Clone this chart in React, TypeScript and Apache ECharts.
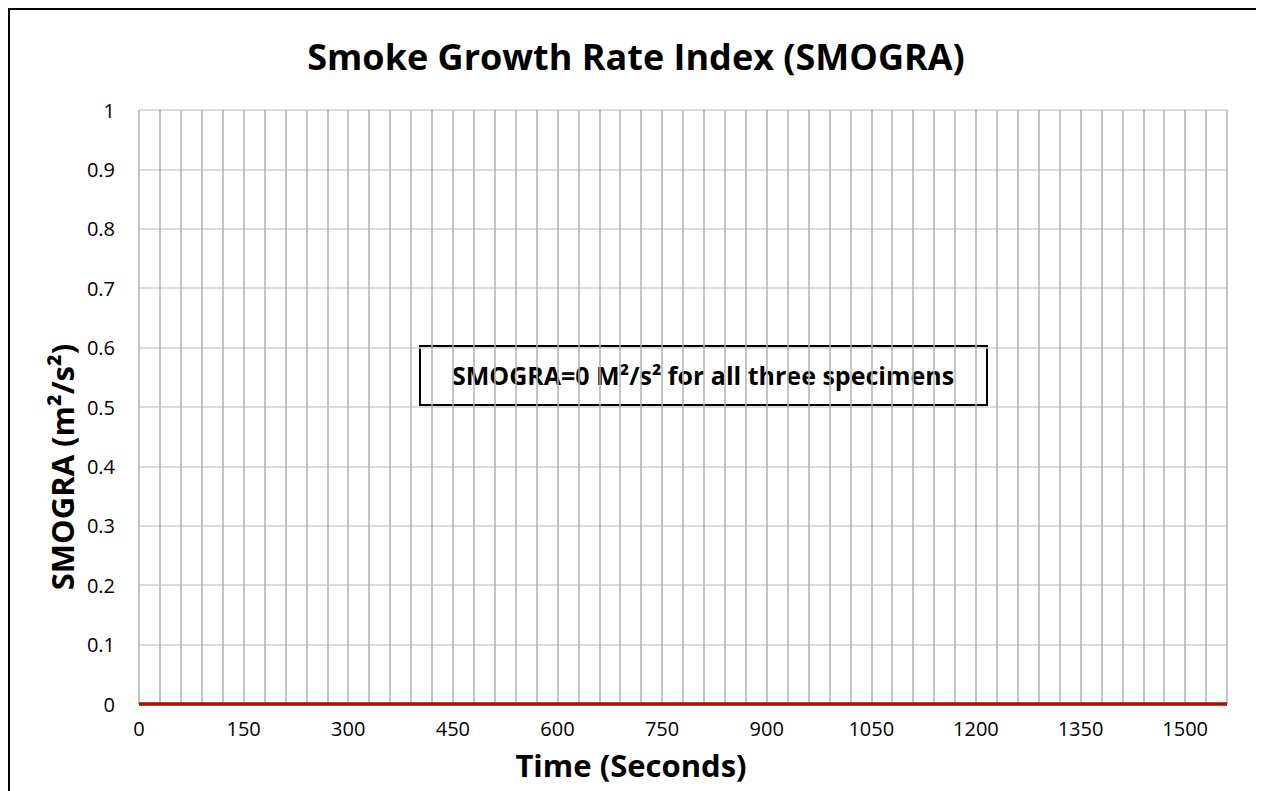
import React, { useEffect, useRef } from "react";
import * as echarts from "echarts";

const titleText = "Smoke Growth Rate Index (SMOGRA)";
const xAxisTitle = "Time (Seconds)";
const yAxisTitle = "SMOGRA (m²/s²)";
const noteText = "SMOGRA=0 M²/s² for all three specimens";

const timeSeconds = [0, 300, 600, 900, 1200, 1500, 1560];
const specimen1 = [0, 0, 0, 0, 0, 0, 0];
const specimen2 = [0, 0, 0, 0, 0, 0, 0];
const specimen3 = [0, 0, 0, 0, 0, 0, 0];
const seriesNames = ["Specimen 1", "Specimen 2", "Specimen 3"];
const seriesColors = ["#4472C4", "#70AD47", "#C00000"];

const FONT = "'Open Sans', sans-serif";

export default function App() {
  const ref = useRef<HTMLDivElement>(null);
  useEffect(() => {
    document.body.style.overflow = "hidden";
    if (!ref.current) return;
    const chart = echarts.init(ref.current, null, { renderer: "svg" });
    const allData = [specimen1, specimen2, specimen3];
    chart.setOption({
      animation: false,
      backgroundColor: "#ffffff",
      textStyle: { fontFamily: FONT },
      grid: { left: 131, right: 45, top: 102, bottom: 87, containLabel: false },
      xAxis: {
        type: "value",
        min: 0,
        max: 1560,
        interval: 30,
        axisLine: { show: false },
        axisTick: { show: false },
        axisLabel: {
          margin: 14,
          fontSize: 20,
          fontFamily: FONT,
          color: "#000",
          formatter: (v: number) => (v % 150 === 0 && v <= 1500 ? String(v) : ""),
        },
        splitLine: { show: true, lineStyle: { color: "#b0b0b0", width: 1.5 } },
      },
      yAxis: {
        type: "value",
        min: 0,
        max: 1,
        interval: 0.1,
        axisLine: { show: false },
        axisTick: { show: false },
        axisLabel: {
          margin: 24,
          fontSize: 20,
          fontFamily: FONT,
          color: "#000",
          formatter: (v: number) => String(Math.round(v * 10) / 10),
        },
        splitLine: { show: true, lineStyle: { color: "#d0d0d0", width: 1.5 } },
      },
      series: allData.map((d, i) => ({
        name: seriesNames[i],
        type: "line",
        data: timeSeconds.map((t, j) => [t, d[j]]),
        showSymbol: false,
        clip: false,
        lineStyle: { color: seriesColors[i], width: 3 },
        itemStyle: { color: seriesColors[i] },
        z: 3 + i,
      })),
      graphic: [
        {
          type: "line",
          shape: { x1: 1, y1: 0, x2: 1, y2: 900 },
          style: { stroke: "#000", lineWidth: 2 },
          silent: true,
          z: 100,
        },
        {
          type: "line",
          shape: { x1: 0, y1: 1, x2: 1400, y2: 1 },
          style: { stroke: "#000", lineWidth: 2 },
          silent: true,
          z: 100,
        },
        {
          type: "text",
          x: 628,
          y: 48,
          style: {
            text: titleText,
            fontFamily: FONT,
            fontWeight: "bold",
            fontSize: 36,
            fill: "#000",
            align: "center",
            verticalAlign: "middle",
          },
        },
        {
          type: "text",
          x: 623,
          y: 757,
          style: {
            text: xAxisTitle,
            fontFamily: FONT,
            fontWeight: "bold",
            fontSize: 31,
            fill: "#000",
            align: "center",
            verticalAlign: "middle",
          },
        },
        {
          type: "text",
          x: 54,
          y: 459,
          rotation: Math.PI / 2,
          style: {
            text: yAxisTitle,
            fontFamily: FONT,
            fontWeight: "bold",
            fontSize: 31,
            fill: "#000",
            align: "center",
            verticalAlign: "middle",
          },
        },
        {
          type: "group",
          z: 50,
          children: [
            {
              type: "rect",
              shape: { x: 412, y: 338, width: 567, height: 59 },
              style: { fill: "#fff", stroke: "#000", lineWidth: 2 },
            },
            {
              type: "text",
              x: 695,
              y: 367,
              style: {
                text: noteText,
                fontFamily: FONT,
                fontWeight: "bold",
                fontSize: 25,
                fill: "#000",
                align: "center",
                verticalAlign: "middle",
              },
            },
          ],
        },
      ],
    });
    return () => chart.dispose();
  }, []);
  return <div ref={ref} style={{ width: 1264, height: 783 }} />;
}
